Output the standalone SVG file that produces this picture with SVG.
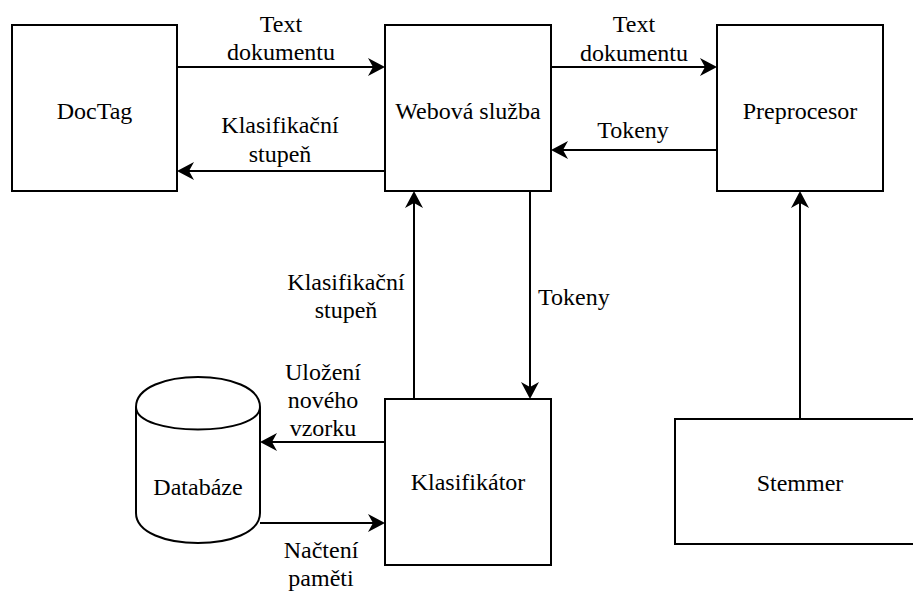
<svg xmlns="http://www.w3.org/2000/svg" width="913" height="592" viewBox="0 0 913 592" font-family="Liberation Serif, Times New Roman, serif">
  <style>
    .box { fill: #ffffff; stroke: #000000; stroke-width: 2; }
    .edge { fill: none; stroke: #000000; stroke-width: 2; marker-end: url(#arrow); }
    .t { font-size: 24px; fill: #000000; text-anchor: middle; }
    .s { text-anchor: start; }
  </style>
  <defs>
    <!-- filled arrowhead with a small notch at the back -->
    <marker id="arrow" markerUnits="userSpaceOnUse" viewBox="-6 -10 20 20" refX="0" refY="0" markerWidth="20" markerHeight="20" orient="auto" overflow="visible">
      <path d="M12,0 L-5,-9 L0,0 L-5,9 Z" fill="#000000" stroke="none"/>
    </marker>
  </defs>
  <rect width="913" height="592" fill="#ffffff"/>

  <g id="connectors">
    <path class="edge" d="M177,67 H373"/>
    <path class="edge" d="M385,171 H189"/>
    <path class="edge" d="M551,67 H705"/>
    <path class="edge" d="M717,150 H563"/>
    <path class="edge" d="M414,399 V203"/>
    <path class="edge" d="M530,191 V387"/>
    <path class="edge" d="M385,442 H272"/>
    <path class="edge" d="M260,523 H373"/>
    <path class="edge" d="M800,419 V203"/>
  </g>

  <g id="edge-labels">
    <text class="t" x="281" y="32">Text</text>
    <text class="t" x="281" y="60">dokumentu</text>
    <text class="t" x="280" y="133">Klasifikační</text>
    <text class="t" x="280" y="162">stupeň</text>
    <text class="t" x="634" y="32">Text</text>
    <text class="t" x="634" y="61">dokumentu</text>
    <text class="t" x="633" y="138">Tokeny</text>
    <text class="t" x="346" y="290">Klasifikační</text>
    <text class="t" x="346" y="318">stupeň</text>
    <text class="t s" x="538" y="305">Tokeny</text>
    <text class="t" x="323" y="380">Uložení</text>
    <text class="t" x="323" y="408">nového</text>
    <text class="t" x="323" y="436">vzorku</text>
    <text class="t" x="321" y="558">Načtení</text>
    <text class="t" x="321" y="586">paměti</text>
  </g>

  <g id="doctag">
    <rect class="box" x="12" y="25" width="165" height="166"/>
    <text class="t" x="94.5" y="119">DocTag</text>
  </g>

  <g id="webova-sluzba">
    <rect class="box" x="385" y="25" width="166" height="166"/>
    <text class="t" x="468" y="119">Webová služba</text>
  </g>

  <g id="preprocesor">
    <rect class="box" x="717" y="25" width="166" height="166"/>
    <text class="t" x="800" y="119">Preprocesor</text>
  </g>

  <g id="klasifikator">
    <rect class="box" x="385" y="399" width="166" height="166"/>
    <text class="t" x="468" y="490">Klasifikátor</text>
  </g>

  <g id="stemmer">
    <rect class="box" x="675" y="419" width="250" height="125"/>
    <text class="t" x="800" y="491">Stemmer</text>
  </g>

  <g id="databaze">
    <path class="box" d="M136,407 C136,367 260,367 260,407 L260,513 C260,553 136,553 136,513 Z"/>
    <path class="box" fill="none" d="M136,407 C136,437 260,437 260,407"/>
    <text class="t" x="198" y="495">Databáze</text>
  </g>
</svg>
